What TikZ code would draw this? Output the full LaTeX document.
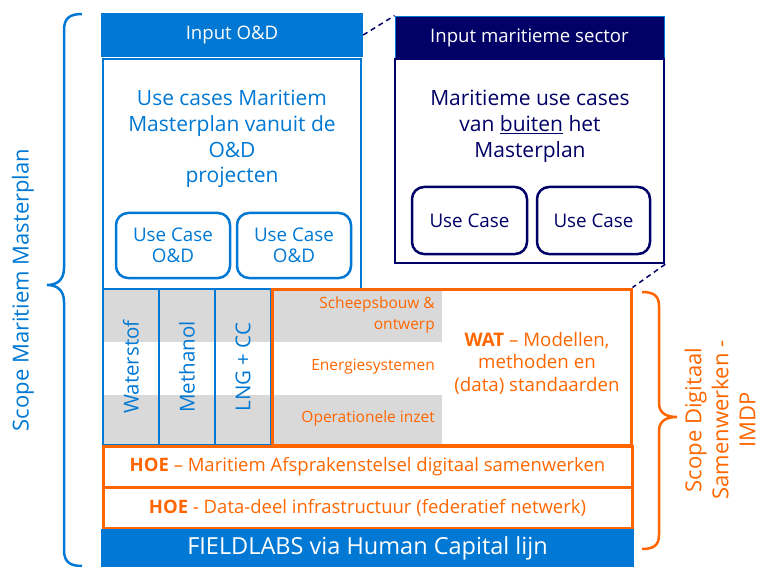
\documentclass[tikz,border=0pt]{standalone}
\usepackage{fontspec}
\setmainfont{Open Sans}
\definecolor{odblue}{RGB}{0,120,212}
\definecolor{navy}{RGB}{0,0,102}
\definecolor{imdporange}{RGB}{255,102,0}
\definecolor{stripegray}{RGB}{217,217,217}
\newcommand{\fs}[2]{\fontsize{#1}{#2}\selectfont}
\begin{document}
\begin{tikzpicture}[x=1pt,y=-1pt,
	every node/.style={inner sep=0pt,align=center},
	header/.style={fill=#1,text=white,font=\fs{18.6}{22}},
	panel/.style={draw=#1,line width=2pt},
	usecase/.style={draw=#1,text=#1,line width=2.5pt,rounded corners=12pt,font=\fs{18.8}{21}},
	column/.style={draw=odblue,line width=2.5pt,minimum width=56pt,minimum height=156pt},
	coltext/.style={rotate=90,text=odblue,font=\fs{20.5}{22}},
	layer/.style={draw=imdporange,line width=3pt,minimum width=529pt,minimum height=41pt,text=imdporange,font=\fs{18.5}{22}},
	aspect/.style={anchor=east,align=right,text=imdporange,font=\fs{15.5}{21}},
	scope/.style={rotate=90,font=\fs{22}{27}}]
	\useasboundingbox (0,0) rectangle (761,567);
	% stripes behind the columns
	\fill[stripegray] (103,290) rectangle (442,342);
	\fill[stripegray] (103,395) rectangle (442,445);
	% O&D part
	\node[header=odblue,minimum width=262pt,minimum height=44pt] (inOD) at (232,35) {Input O\&D};
	\node[panel=odblue,minimum width=258pt,minimum height=230pt] (odBody) at (232,174) {};
	\node[text=odblue,font=\fs{21}{25.7}] (odText) at (232,139) {Use cases Maritiem\\Masterplan vanuit de\\O\&D\\projecten};
	\node[usecase=odblue,minimum width=114pt,minimum height=65pt] (ucOD1) at (173,245.5) {Use Case\\O\&D};
	\node[usecase=odblue,minimum width=114pt,minimum height=65pt] (ucOD2) at (294,245.5) {Use Case\\O\&D};
	% maritime sector part
	\node[header=navy,draw=odblue,line width=0.8pt,minimum width=269pt,minimum height=43pt] (inMS) at (529.5,37.5) {Input maritieme sector};
	\node[panel=navy,line width=2.5pt,minimum width=269pt,minimum height=204pt] (msBody) at (529.5,161) {};
	\node[text=navy,font=\fs{21}{26}] (msText) at (530,126) {Maritieme use cases\\van \underline{buiten} het\\Masterplan};
	\node[usecase=navy,minimum width=115pt,minimum height=67pt] (ucMS1) at (469.5,220.5) {Use Case};
	\node[usecase=navy,minimum width=113pt,minimum height=67pt] (ucMS2) at (593.5,220.5) {Use Case};
	% columns
	\node[column] (colW) at (131,367) {};
	\node[column] (colM) at (187,367) {};
	\node[column] (colL) at (243,367) {};
	\node[coltext] at (colW) {Waterstof};
	\node[coltext] at (colM) {Methanol};
	\node[coltext] at (colL) {LNG + CC};
	% WAT
	\node[draw=imdporange,line width=3pt,minimum width=359pt,minimum height=156pt] (wat) at (451.5,367) {};
	\node[aspect] (shipA) at (435,315) {Scheepsbouw \&\\ontwerp};
	\node[aspect] (shipE) at (435,367) {Energiesystemen};
	\node[aspect] (shipO) at (435,418) {Operationele inzet};
	\node[text=imdporange,font=\fs{18.7}{22.5}] (watText) at (537,363) {\textbf{WAT} – Modellen,\\methoden en\\(data) standaarden};
	% HOE layers
	\node[layer] (hoeA) at (367.5,466.5) {\textbf{HOE} – Maritiem Afsprakenstelsel digitaal samenwerken};
	\node[layer] (hoeB) at (367.5,507.5) {\textbf{HOE} - Data-deel infrastructuur (federatief netwerk)};
	\node[fill=odblue,text=white,minimum width=533pt,minimum height=38pt,font=\fs{23.5}{26}] (field) at (367.5,548) {FIELDLABS via Human Capital lijn};
	% links between the inputs
	\draw[navy,line width=1.5pt,dash pattern=on 5pt off 4pt] (inOD.east) -- (inMS.north west);
	\draw[navy,line width=1.5pt,dash pattern=on 5pt off 4pt] (msBody.south east) -- (wat.north east);
	% braces
	\draw[odblue,line width=2.5pt] (82,14) .. controls (70,14) and (64,18) .. (64,30) -- (64,268)
		.. controls (64,280) and (57,285) .. (47,285) .. controls (57,285) and (64,290) .. (64,302)
		-- (64,550) .. controls (64,562) and (70,566) .. (82,566);
	\draw[imdporange,line width=2.5pt] (642,292) .. controls (654,292) and (659,296) .. (659,306) -- (659,403)
		.. controls (659,413) and (666,417) .. (677,417) .. controls (666,417) and (659,421) .. (659,431)
		-- (659,535) .. controls (659,545) and (654,549) .. (642,549);
	\node[scope,text=odblue] (scopeMM) at (23,290) {Scope Maritiem Masterplan};
	\node[scope,text=imdporange] (scopeDS) at (720,420) {Scope Digitaal\\Samenwerken -\\IMDP};
\end{tikzpicture}
\end{document}
